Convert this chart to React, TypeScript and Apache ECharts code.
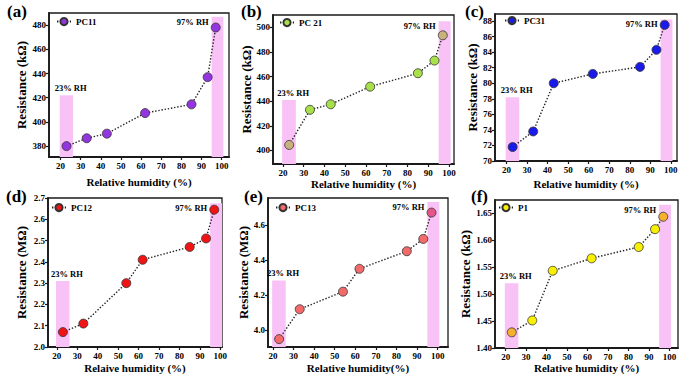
import React, { useEffect, useRef } from "react";
import * as echarts from "echarts";

const FONT = '"Liberation Serif", "Times New Roman", serif';

// ---- data ----
const humidityABCF = [23, 33, 43, 62, 85, 93, 97];
const humidityDE = [23, 33, 54, 62, 85, 93, 97];

const resistPC11 = [380, 386.5, 390.3, 407.3, 414.5, 437, 478];
const resistPC21 = [404.5, 433, 437.5, 451.8, 462.7, 473, 493.5];
const resistPC31 = [71.8, 73.8, 80.0, 81.2, 82.1, 84.3, 87.5];
const resistPC12 = [2.07, 2.11, 2.3, 2.41, 2.47, 2.51, 2.645];
const resistPC13 = [3.95, 4.12, 4.22, 4.35, 4.45, 4.52, 4.67];
const resistP1 = [1.429, 1.451, 1.543, 1.566, 1.587, 1.62, 1.643];

const seriesNames = ["PC11", "PC 21", "PC31", "PC12", "PC13", "P1"];
const panelLetters = ["(a)", "(b)", "(c)", "(d)", "(e)", "(f)"];
const yTitles = [
  "Resistance (kΩ)",
  "Resistance (kΩ)",
  "Resistance (kΩ)",
  "Resistance (MΩ)",
  "Resistance (MΩ)",
  "Resistance (kΩ)",
];
const xTitles = [
  "Relative humidity (%)",
  "Relative humidity (%)",
  "Relative humidity (%)",
  "Relaive humidity (%)",
  "Relative humidity(%)",
  "Relative humidity (%)",
];

const xTicks = [20, 30, 40, 50, 60, 70, 80, 90, 100];
const yTicksA = [380, 400, 420, 440, 460, 480];
const yTicksB = [400, 420, 440, 460, 480, 500];
const yTicksC = [70, 72, 74, 76, 78, 80, 82, 84, 86, 88];
const yTicksD = [2.0, 2.1, 2.2, 2.3, 2.4, 2.5, 2.6, 2.7];
const yTicksE = [4.0, 4.2, 4.4, 4.6];
const yTicksF = [1.4, 1.45, 1.5, 1.55, 1.6, 1.65];

// axis ranges
const xRanges = [
  [14.3, 103.6],
  [15.2, 102.4],
  [14.4, 103],
  [15.7, 100.8],
  [17.6, 105],
  [14.8, 104.2],
];
const yRanges = [
  [371, 490],
  [389, 510],
  [70, 88.9],
  [2.0, 2.7],
  [3.905, 4.753],
  [1.4, 1.674],
];

// humidity bands (x range) and their tops (y value)
const band23 = [19.6, 26.2];
const band97 = [95, 100.8];
const band23Tops = [422, 441, 78.2, 2.31, 4.284, 1.52];
const band97Tops = [487, 505, 88.2, 2.675, 4.73, 1.665];

// marker colours
const mainColors = ["#9436e0", "#a8e04a", "#1a1aeb", "#f01414", "#f26a6a", "#f8f000"];
const pointColors: (string | null)[][] = [
  [null, null, null, null, null, null, null],
  ["#c9b07f", null, null, null, null, null, "#c9b07f"],
  [null, null, null, null, null, null, null],
  [null, null, null, null, null, null, null],
  [null, null, null, null, null, null, "#e6558a"],
  ["#f5b030", null, null, null, null, null, "#f5b030"],
];

// ---- layout (pixels) ----
const grids = [
  { left: 49, top: 13, width: 180, height: 144 },
  { left: 273, top: 15, width: 181, height: 149 },
  { left: 495, top: 14, width: 182, height: 147 },
  { left: 48, top: 198, width: 174, height: 149 },
  { left: 268, top: 198, width: 180, height: 149 },
  { left: 495, top: 200, width: 183, height: 148 },
];
const letterPos = [
  { left: 2, top: -2 },
  { left: 236, top: -2 },
  { left: 460, top: -2 },
  { left: 1, top: 183 },
  { left: 239, top: 183 },
  { left: 466, top: 183 },
];
const legendPos = [
  { left: 56, top: 17 },
  { left: 279, top: 18 },
  { left: 504, top: 16 },
  { left: 51, top: 203 },
  { left: 275, top: 203 },
  { left: 498, top: 203 },
];
const yNameGaps = [21, 20, 14, 20, 17, 21];
const xNameGaps = [19, 14, 17, 15, 15, 14];

const allX = [humidityABCF, humidityABCF, humidityABCF, humidityDE, humidityDE, humidityABCF];
const allY = [resistPC11, resistPC21, resistPC31, resistPC12, resistPC13, resistP1];
const allYTicks = [yTicksA, yTicksB, yTicksC, yTicksD, yTicksE, yTicksF];
const yDecimals = [0, 0, 0, 1, 1, 2];

const PINK = "#f9c2f6";
const INK = "#1a1a1a";

function buildOption() {
  const option: any = {
    animation: false,
    backgroundColor: "#ffffff",
    title: [],
    legend: [],
    grid: [],
    xAxis: [],
    yAxis: [],
    series: [],
  };
  for (let i = 0; i < 6; i++) {
    option.title.push({
      text: panelLetters[i],
      left: letterPos[i].left,
      top: letterPos[i].top,
      textStyle: { fontFamily: FONT, fontWeight: "bold", fontSize: 17, color: "#000" },
    });
    option.grid.push({
      ...grids[i],
      show: true,
      borderColor: INK,
      borderWidth: 1.3,
      backgroundColor: "transparent",
      containLabel: false,
    });
    option.legend.push({
      data: [seriesNames[i]],
      left: legendPos[i].left,
      top: legendPos[i].top,
      itemWidth: 14,
      itemHeight: 9,
      itemGap: 0,
      padding: 0,
      selectedMode: false,
      textStyle: { fontFamily: FONT, fontWeight: "bold", fontSize: 9, color: "#000" },
    });
    option.xAxis.push({
      type: "value",
      gridIndex: i,
      min: xRanges[i][0],
      max: xRanges[i][1],
      name: xTitles[i],
      nameLocation: "middle",
      nameGap: xNameGaps[i],
      nameTextStyle: { fontFamily: FONT, fontWeight: "bold", fontSize: 11, color: "#000" },
      axisLine: { show: true, onZero: false, lineStyle: { color: INK, width: 1.8 } },
      axisTick: {
        show: true,
        inside: false,
        length: 3,
        customValues: xTicks,
        lineStyle: { color: INK, width: 1.2 },
      },
      axisLabel: {
        customValues: xTicks,
        margin: 4,
        fontFamily: FONT,
        fontWeight: "bold",
        fontSize: 9,
        color: "#000",
      },
      splitLine: { show: false },
    });
    const dec = yDecimals[i];
    option.yAxis.push({
      type: "value",
      gridIndex: i,
      min: yRanges[i][0],
      max: yRanges[i][1],
      name: yTitles[i],
      nameLocation: "middle",
      nameGap: yNameGaps[i],
      nameTextStyle: { fontFamily: FONT, fontWeight: "bold", fontSize: 13, color: "#000" },
      axisLine: { show: true, onZero: false, lineStyle: { color: INK, width: 1.8 } },
      axisTick: {
        show: true,
        inside: false,
        length: 3,
        customValues: allYTicks[i],
        lineStyle: { color: INK, width: 1.2 },
      },
      axisLabel: {
        customValues: allYTicks[i],
        margin: 3,
        fontFamily: FONT,
        fontWeight: "bold",
        fontSize: 9,
        color: "#000",
        formatter: (v: number) => v.toFixed(dec),
      },
      splitLine: { show: false },
    });

    const ymin = yRanges[i][0];
    // band helper series
    option.series.push({
      type: "line",
      name: "band" + i,
      xAxisIndex: i,
      yAxisIndex: i,
      data: [],
      silent: true,
      z: 1,
      markArea: {
        silent: true,
        itemStyle: { color: PINK, opacity: 1 },
        data: [
          [
            {
              name: "23% RH",
              xAxis: band23[0],
              yAxis: ymin,
              label: {
                show: true,
                position: [-5, -7],
                align: "left",
                verticalAlign: "middle",
                fontFamily: FONT,
                fontWeight: "bold",
                fontSize: 8.5,
                color: "#000",
              },
            },
            { xAxis: band23[1], yAxis: band23Tops[i] },
          ],
          [
            {
              name: "97% RH",
              xAxis: band97[0],
              yAxis: ymin,
              label: {
                show: true,
                position: [-3, 5],
                align: "right",
                verticalAlign: "middle",
                fontFamily: FONT,
                fontWeight: "bold",
                fontSize: 8.5,
                color: "#000",
              },
            },
            { xAxis: band97[1], yAxis: band97Tops[i] },
          ],
        ],
      },
    });

    const xs = allX[i];
    const ys = allY[i];
    option.series.push({
      type: "line",
      name: seriesNames[i],
      xAxisIndex: i,
      yAxisIndex: i,
      z: 3,
      symbol: "circle",
      symbolSize: 9,
      itemStyle: { color: mainColors[i], borderColor: "#333", borderWidth: 0.8 },
      lineStyle: { color: "#222", width: 1.4, type: [1.4, 1.8] },
      data: xs.map((x, k) => {
        const c = pointColors[i][k];
        return c ? { value: [x, ys[k]], itemStyle: { color: c } } : { value: [x, ys[k]] };
      }),
    });
  }
  return option;
}

export default function App() {
  const ref = useRef<HTMLDivElement>(null);
  useEffect(() => {
    if (!ref.current) return;
    const chart = echarts.init(ref.current, null, { renderer: "svg" });
    chart.setOption(buildOption());
    return () => chart.dispose();
  }, []);
  return (
    <div
      ref={ref}
      style={{ position: "absolute", left: 0, top: 0, width: 685, height: 377, background: "#fff" }}
    />
  );
}
